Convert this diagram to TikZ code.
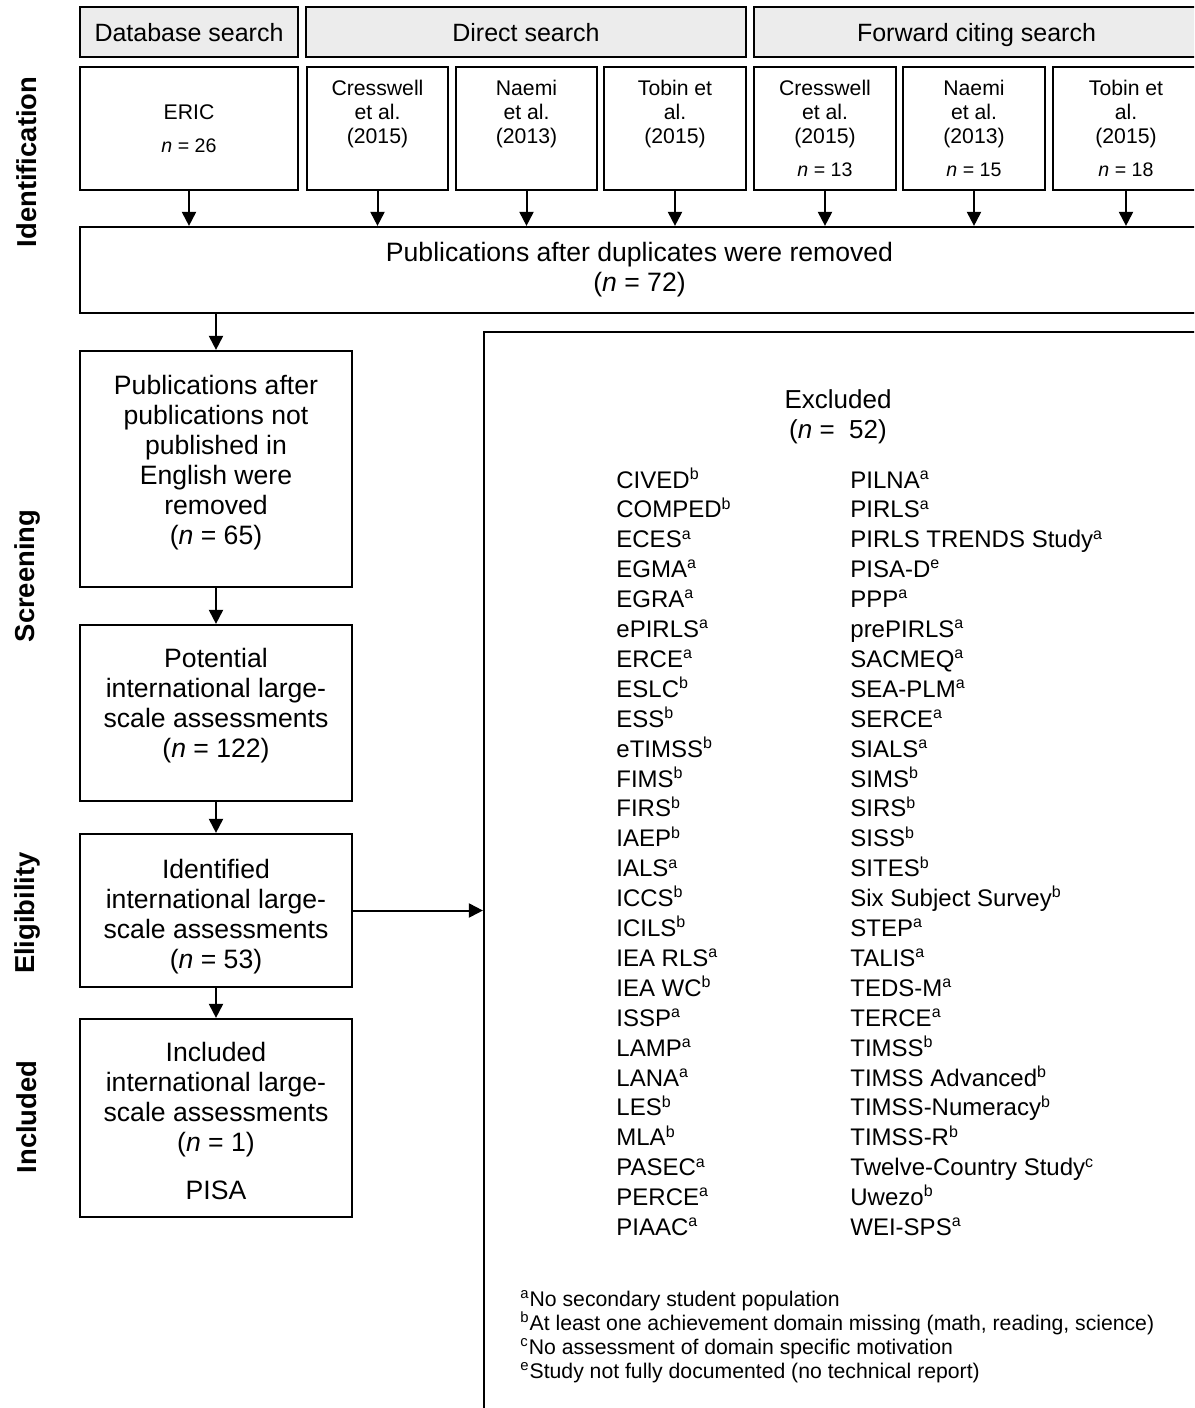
\documentclass[tikz,border=0pt]{standalone}
\usepackage{fontspec}
\setmainfont{Liberation Sans}
\usepackage{tikz}
\usetikzlibrary{arrows.meta, calc}

\tikzset{
  box/.style={draw=black, line width=1.1pt, align=center, inner sep=0pt},
  headbox/.style={box, fill=gray!15, minimum height=25pt, text height=9.5pt, text depth=0pt,
    font=\fontsize{12.5}{14}\selectfont},
  srcbox/.style={box, minimum width=71pt, minimum height=61.5pt, font=\fontsize{10.6}{12}\selectfont},
  stagebox/.style={box, minimum width=136pt, font=\fontsize{13.3}{15}\selectfont},
  phase/.style={rotate=90, inner sep=0pt, font=\fontsize{13.7}{16}\selectfont\bfseries},
  flow/.style={-{Triangle[width=7pt, length=7pt]}, line width=1pt},
  exitem/.style={anchor=base west, inner sep=0pt, font=\fontsize{12}{15}\selectfont},
  exnote/.style={anchor=base west, inner sep=0pt, font=\fontsize{10.6}{12}\selectfont},
}
\newcommand{\nval}[1]{{\fontsize{9.8}{12}\selectfont\textit{n} = #1}}

\begin{document}
\begin{tikzpicture}[x=0.5pt, y=-0.5pt]

  \useasboundingbox (0,0) rectangle (1194,1408);
  \clip (0,0) rectangle (1194,1408);

  \node[headbox, minimum width=109pt] (dbhead) at (189,32) {Database search};
  \node[headbox, minimum width=220pt] (dirhead) at (526,32) {Direct search};
  \node[headbox, minimum width=222.5pt] (fwdhead) at (976.5,32) {Forward citing search};

  \node[srcbox, minimum width=109pt] (eric) at (189,128.5) {ERIC\\[4.5pt]\nval{26}};
  \node[srcbox, minimum width=70.5pt] (cresD) at (377.5,128.5) {Cresswell\\et al.\\(2015)\\[4.5pt]\phantom{\nval{13}}};
  \node[srcbox, minimum width=70.5pt] (naemiD) at (526.5,128.5) {Naemi\\et al.\\(2013)\\[4.5pt]\phantom{\nval{15}}};
  \node[srcbox] (tobinD) at (675,128.5) {Tobin et\\al.\\(2015)\\[4.5pt]\phantom{\nval{18}}};
  \node[srcbox] (cresF) at (825,128.5) {Cresswell\\et al.\\(2015)\\[4.5pt]\nval{13}};
  \node[srcbox] (naemiF) at (974,128.5) {Naemi\\et al.\\(2013)\\[4.5pt]\nval{15}};
  \node[srcbox, minimum width=73pt] (tobinF) at (1126,128.5) {Tobin et\\al.\\(2015)\\[4.5pt]\nval{18}};

  \node[stagebox, text depth=3pt, minimum width=559.5pt, minimum height=43pt] (dup) at (639.5,270)
    {Publications after duplicates were removed\\(\textit{n} = 72)};

  \foreach \s in {eric, cresD, naemiD, tobinD, cresF, naemiF, tobinF}
    \draw[flow] (\s.south) -- (\s.south |- dup.north);

  \node[stagebox, text height=96.5pt, text depth=21.5pt] (english) at (216,469)
    {Publications after\\publications not\\published in\\English were\\removed\\(\textit{n} = 65)};
  \node[stagebox, text height=66pt, text depth=22pt] (potential) at (216,713)
    {Potential\\international large-\\scale assessments\\(\textit{n} = 122)};
  \node[stagebox, text height=67pt, text depth=9.5pt] (identified) at (216,910.5)
    {Identified\\international large-\\scale assessments\\(\textit{n} = 53)};
  \node[stagebox, text height=90.25pt, text depth=8.75pt] (included) at (216,1118)
    {Included\\international large-\\scale assessments\\(\textit{n} = 1)\\[9pt]PISA};

  \node[box, minimum width=357.5pt, minimum height=540pt] (excl) at (841.5,872) {};
  \node[inner sep=0pt, align=center, anchor=north, font=\fontsize{13}{15}\selectfont] (exhead) at (838,389)
    {Excluded\\(\textit{n} =\ \ 52)};

  \draw[flow] (english.north |- dup.south) -- (english.north);
  \draw[flow] (english.south) -- (potential.north);
  \draw[flow] (potential.south) -- (identified.north);
  \draw[flow] (identified.south) -- (included.north);
  \draw[flow] (identified.east) -- (identified.east -| excl.west);

  \node[phase] (idlab) at (27,162) {Identification};
  \node[phase] (sclab) at (27,576) {Screening};
  \node[phase] (ellab) at (27,913) {Eligibility};
  \node[phase] (inlab) at (27,1117) {Included};

  \foreach \name [count=\i from 0] in {CIVED\textsuperscript{b}, COMPED\textsuperscript{b},
      ECES\textsuperscript{a}, EGMA\textsuperscript{a}, EGRA\textsuperscript{a}, ePIRLS\textsuperscript{a},
      ERCE\textsuperscript{a}, ESLC\textsuperscript{b}, ESS\textsuperscript{b}, eTIMSS\textsuperscript{b},
      FIMS\textsuperscript{b}, FIRS\textsuperscript{b}, IAEP\textsuperscript{b}, IALS\textsuperscript{a},
      ICCS\textsuperscript{b}, ICILS\textsuperscript{b}, IEA RLS\textsuperscript{a}, IEA WC\textsuperscript{b},
      ISSP\textsuperscript{a}, LAMP\textsuperscript{a}, LANA\textsuperscript{a}, LES\textsuperscript{b},
      MLA\textsuperscript{b}, PASEC\textsuperscript{a}, PERCE\textsuperscript{a}, PIAAC\textsuperscript{a}}
    \node[exitem] (exa\i) at (616,{488+29.9*\i}) {\name};

  \foreach \name [count=\i from 0] in {PILNA\textsuperscript{a}, PIRLS\textsuperscript{a},
      PIRLS TRENDS Study\textsuperscript{a}, PISA-D\textsuperscript{e}, PPP\textsuperscript{a},
      prePIRLS\textsuperscript{a}, SACMEQ\textsuperscript{a}, SEA-PLM\textsuperscript{a},
      SERCE\textsuperscript{a}, SIALS\textsuperscript{a}, SIMS\textsuperscript{b}, SIRS\textsuperscript{b},
      SISS\textsuperscript{b}, SITES\textsuperscript{b}, Six Subject Survey\textsuperscript{b},
      STEP\textsuperscript{a}, TALIS\textsuperscript{a}, TEDS-M\textsuperscript{a}, TERCE\textsuperscript{a},
      TIMSS\textsuperscript{b}, TIMSS Advanced\textsuperscript{b}, TIMSS-Numeracy\textsuperscript{b},
      TIMSS-R\textsuperscript{b}, Twelve-Country Study\textsuperscript{c}, Uwezo\textsuperscript{b},
      WEI-SPS\textsuperscript{a}}
    \node[exitem] (exb\i) at (850,{488+29.9*\i}) {\name};

  \foreach \note [count=\i from 0] in {{\textsuperscript{a}No secondary student population},
      {\textsuperscript{b}At least one achievement domain missing (math, reading, science)},
      {\textsuperscript{c}No assessment of domain specific motivation},
      {\textsuperscript{e}Study not fully documented (no technical report)}}
    \node[exnote] (fn\i) at (520,{1306+24.2*\i}) {\note};

\end{tikzpicture}
\end{document}
